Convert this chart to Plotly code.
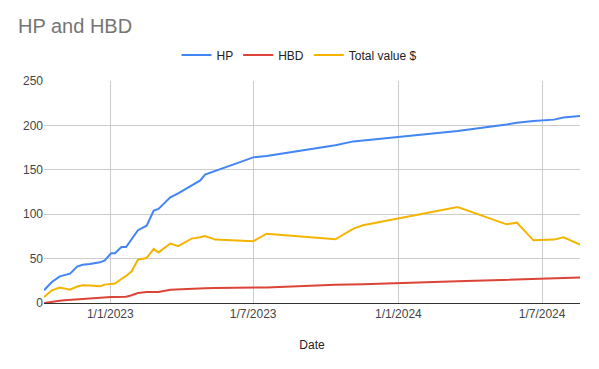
import plotly.graph_objects as go

dates = [
    "2022-10-09", "2022-10-19", "2022-10-29", "2022-11-04", "2022-11-11",
    "2022-11-20", "2022-11-27", "2022-12-06", "2022-12-19", "2022-12-25",
    "2023-01-02", "2023-01-07", "2023-01-15", "2023-01-21", "2023-01-28",
    "2023-02-05", "2023-02-16", "2023-02-25", "2023-03-03", "2023-03-18",
    "2023-03-28", "2023-04-14", "2023-04-25", "2023-05-01", "2023-05-14",
    "2023-07-01", "2023-07-18", "2023-10-13", "2023-11-05", "2023-11-17",
    "2024-03-16", "2024-05-17", "2024-05-30", "2024-06-20", "2024-07-16",
    "2024-07-28", "2024-08-18",
]
hp = [
    14.3, 23.6, 30, 31, 33,
    41, 43, 44, 45.8, 48,
    56, 56, 63, 63, 71.8,
    82, 87, 104, 106, 119,
    123.5, 132.5, 138, 144.5, 148.5,
    164, 165.6, 177.6, 182, 183,
    193.7, 201, 203, 205, 206.5,
    208.8, 210.6,
]
hbd = [
    0, 1.5, 2.5, 3, 3.5,
    4.3, 5, 5.5, 6, 6.5,
    6.8, 6.8, 6.8, 7, 8.7,
    11.3, 12.4, 12.4, 12.4, 15,
    15.5, 16, 16.3, 16.5, 16.8,
    17.3, 17.5, 20.5, 20.7, 21,
    24.4, 26, 26.3, 27, 27.6,
    27.9, 28.6,
]
total = [
    6.8, 14.3, 17.3, 16.5, 15,
    18.5, 20, 19.8, 18.8, 20.7,
    21, 22, 27, 30.5, 35.7,
    48.8, 50.7, 61, 57, 67,
    64, 72.5, 74, 75.5, 71.4,
    69.5, 78, 71.7, 83.8, 87.5,
    108, 88.6, 90.5, 70.6, 71.4,
    74, 65.7,
]
x_tick_vals = ["2023-01-01", "2023-07-01", "2024-01-01", "2024-07-01"]
x_tick_text = ["1/1/2023", "1/7/2023", "1/1/2024", "1/7/2024"]

fig = go.Figure()
fig.add_trace(go.Scatter(x=dates, y=hp, name="HP", mode="lines",
                         line=dict(color="#4285F4", width=2)))
fig.add_trace(go.Scatter(x=dates, y=hbd, name="HBD", mode="lines",
                         line=dict(color="#DB4437", width=2)))
fig.add_trace(go.Scatter(x=dates, y=total, name="Total value $", mode="lines",
                         line=dict(color="#F4B400", width=2)))

fig.update_layout(
    width=599, height=369,
    margin=dict(l=44, r=19, t=81, b=66, autoexpand=False),
    paper_bgcolor="white", plot_bgcolor="white",
    font=dict(family="Arial, Liberation Sans, sans-serif", size=12, color="#222222"),
    title=dict(text="HP and HBD", x=18/599, xref="container", xanchor="left",
               y=1-26/369, yref="container", yanchor="middle",
               font=dict(size=20, color="#757575")),
    legend=dict(orientation="h", x=0.5, xanchor="center", xref="container",
                y=1-55/369, yref="container", yanchor="middle",
                itemwidth=30, font=dict(size=12, color="#222222")),
    showlegend=True,
)
fig.update_xaxes(
    range=["2022-10-09", "2024-08-18"],
    tickvals=x_tick_vals, ticktext=x_tick_text,
    showgrid=True, gridcolor="#cccccc", gridwidth=1,
    showline=True, linecolor="#333333", linewidth=1,
    ticks="", tickfont=dict(size=12, color="#444444"),
    title=dict(text="Date", font=dict(size=12, color="#222222"), standoff=20),
    zeroline=False, automargin=False,
)
fig.update_yaxes(
    range=[0, 250], dtick=50,
    showgrid=True, gridcolor="#cccccc", gridwidth=1,
    zeroline=True, zerolinecolor="#333333", zerolinewidth=1,
    ticks="", tickfont=dict(size=12, color="#444444"),
    automargin=False,
)

fig.write_html("out.html", config={"displayModeBar": False},
               post_script="document.body.style.margin='0';")
